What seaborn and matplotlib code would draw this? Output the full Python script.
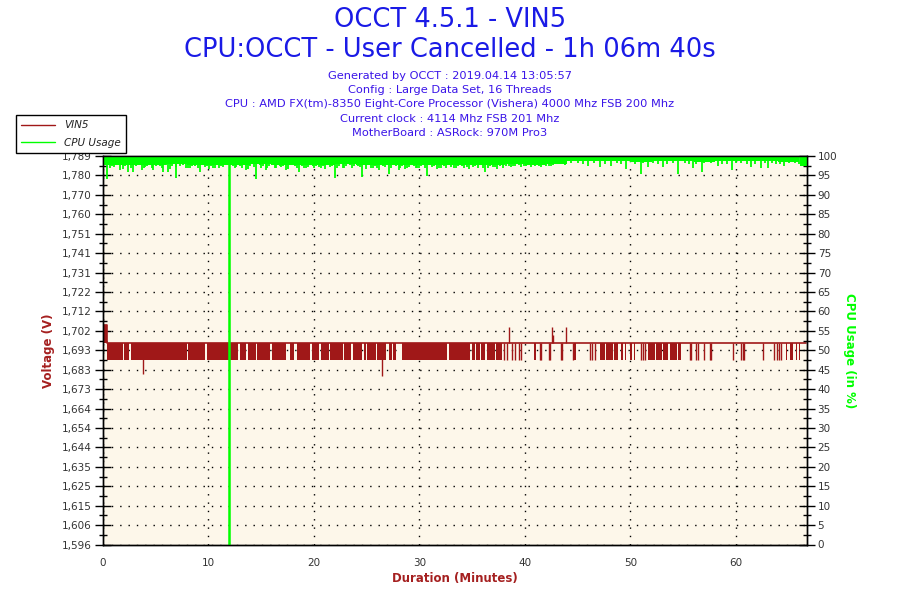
import numpy as np
import matplotlib
matplotlib.use('Agg')
import matplotlib.pyplot as plt
from matplotlib.lines import Line2D
import seaborn as sns

sns.set_style('white')
plt.rcParams['font.family'] = ['DejaVu Sans']

# Данные (минуты / вольты / проценты)
duration = 66.67

volt_labels = ['1,596', '1,606', '1,615', '1,625', '1,635', '1,644', '1,654',
               '1,664', '1,673', '1,683', '1,693', '1,702', '1,712', '1,722',
               '1,731', '1,741', '1,751', '1,760', '1,770', '1,780', '1,789']
volt_min, volt_max = 1.596, 1.7892
cpu_labels = [str(v) for v in range(0, 105, 5)]
x_ticks = [0, 10, 20, 30, 40, 50, 60]

# VIN5: верхний и нижний уровни
v_high = 1.6961
v_low = 1.6876
vin5_line_t = [0.0, 0.45, 0.45, 66.6]
vin5_line_v = [1.705, 1.705, v_high, v_high]
vin5_start_span = [0.0, 0.45]
vin5_start_top = 1.705

# участки, где напряжение постоянно скачет между уровнями
band_start = [0.40, 2.05, 2.71, 8.08, 9.85, 12.99, 13.81, 14.62, 16.01, 17.71,
              18.46, 19.50, 19.85, 20.70, 21.57, 22.85, 23.68, 24.72, 25.09,
              25.98, 27.14, 27.52, 28.40, 32.80, 34.47, 35.00, 35.41, 35.88,
              36.42, 37.30,
              40.82, 44.69, 47.11, 47.65, 48.40, 49.15, 49.50, 49.94, 50.30,
              51.67, 52.40, 53.10, 53.75, 54.50, 64.72, 65.10, 65.66, 65.95]
band_end = [1.92, 2.55, 7.96, 9.72, 12.80, 13.62, 14.50, 15.89, 17.40, 18.18,
            19.43, 19.69, 20.54, 21.48, 22.74, 23.53, 24.62, 24.94, 25.89,
            26.89, 27.45, 27.77, 32.61, 34.38, 34.85, 35.32, 35.79, 36.26,
            37.21, 37.83,
            41.04, 44.85, 47.55, 48.30, 48.84, 49.25, 49.62, 50.10, 50.42,
            52.30, 53.00, 53.60, 54.40, 54.81, 64.85, 65.35, 65.80, 66.07]

# одиночные провалы до нижнего уровня
vin5_dip_t = [38.00, 38.30, 38.77, 39.03, 39.47, 39.66, 41.39, 41.51, 42.24,
              42.40, 43.40, 43.49, 44.53, 46.17, 46.32, 46.64, 50.98, 51.20,
              51.36, 55.60, 55.75, 56.23, 56.39, 56.92, 57.55, 57.64, 59.69,
              60.47, 60.63, 60.79, 62.52, 63.62, 63.84, 64.09, 64.25]
# выбросы вверх и вниз
vin5_up_t = [38.53, 42.61, 42.66, 43.93]
vin5_up_v = [1.7043, 1.7043, 1.7000, 1.7043]
vin5_down_t = [3.85, 26.48]
vin5_down_v = [1.6810, 1.6800]

# CPU Usage
cpu_line_t = [0.0, 12.0, 12.0, 12.1, 12.1, duration]
cpu_line_v = [100, 100, 0, 0, 100, 100]
cpu_floor = [97.6, 97.8, 97.7, 97.9, 97.6, 97.8, 97.7, 97.9, 97.8, 97.6,
             97.7, 97.9, 97.8, 97.7, 97.6, 97.8, 97.7, 97.6, 97.8, 97.9,
             97.7, 98.0, 98.6, 98.7, 98.6, 98.5, 98.7, 98.6, 98.5, 98.7,
             98.8, 98.6, 98.5, 98.3]
cpu_dip_t = [0.47, 1.67, 2.45, 2.92, 3.72, 4.81, 5.75, 6.23, 6.92, 8.11,
             9.22, 10.63, 11.58, 12.68, 13.62, 14.57, 15.51, 16.45, 17.40,
             18.65, 19.28, 20.54, 22.05, 22.74, 23.06, 24.57, 25.41, 26.20,
             27.14, 28.08, 28.87, 29.81, 30.70, 31.86, 33.27, 34.53, 36.26,
             37.21, 38.46, 39.88, 41.29, 42.24, 43.81, 45.07, 46.00, 47.11,
             48.20, 49.57, 50.98, 51.67, 53.08, 54.50, 55.92, 56.79, 58.27,
             59.59, 61.42, 62.36, 62.99, 64.56,
             0.90, 1.30, 2.10, 3.20, 3.50, 4.20, 4.50, 5.10, 5.40, 6.00,
             6.60, 7.30, 7.60, 8.50, 8.80, 9.50, 9.90, 10.30, 10.90, 11.20,
             12.40, 13.00, 13.30, 14.00, 14.90, 15.20, 15.80, 16.10, 16.80,
             17.10, 17.80, 18.20, 18.90, 19.60, 19.90, 20.20, 20.90, 21.30,
             21.70, 22.40, 23.40, 23.80, 24.20, 24.90, 25.80, 26.60, 27.50,
             27.80, 28.40, 29.20, 29.50, 30.20, 31.00, 31.40, 32.30, 32.70,
             33.70, 34.00, 34.90, 35.30, 35.80, 36.70, 37.60, 38.00, 38.90,
             39.40, 40.30, 40.80, 41.70, 42.70,
             43.30, 44.40, 45.50, 46.50, 47.60, 48.70, 49.10, 50.40, 51.20,
             52.10, 52.60, 53.50, 54.00, 55.20, 55.50, 56.20, 57.00, 57.60,
             58.70, 59.10, 60.00, 60.50, 61.00, 61.80, 62.70, 63.40, 63.80,
             64.20, 65.00, 65.60, 66.00,
             0.70, 1.10, 1.90, 2.70, 3.90, 4.00, 4.70, 5.60, 6.40, 7.00,
             7.90, 8.30, 9.00, 9.70, 10.10, 10.50, 11.00, 11.40, 12.55,
             13.20, 13.80, 14.30, 15.00, 15.60, 16.30, 16.95, 17.60, 18.40,
             19.10, 19.45, 20.00, 20.70, 21.10, 21.50, 22.20, 22.90, 23.60,
             24.40, 25.00, 25.60, 26.00, 26.80, 27.30, 28.20, 28.60, 29.00,
             29.70, 30.00, 30.50, 31.20, 31.70, 32.10, 32.50, 33.00, 33.50,
             34.20, 34.70, 35.10, 35.60, 36.00, 36.50, 37.00, 37.40, 37.90,
             38.20, 38.70, 39.10, 39.60, 40.10, 40.60, 41.00, 41.50, 42.00,
             42.50]
cpu_dip_v = [94.0, 96.4, 96.0, 95.9, 96.3, 96.4, 95.9, 96.0, 94.3, 96.8,
             96.0, 96.8, 97.7, 97.1, 96.4, 94.0, 96.4, 96.8, 96.4,
             95.9, 96.8, 97.1, 94.3, 96.8, 97.5, 94.6, 96.8, 96.4,
             95.3, 96.4, 96.8, 96.8, 94.8, 96.8, 96.8, 97.1, 95.9,
             97.1, 97.5, 97.5, 97.5, 97.5, 97.7, 98.1, 97.5, 97.1,
             97.5, 96.6, 95.3, 97.1, 97.1, 95.3, 96.8, 96.0, 97.5,
             96.4, 97.1, 96.8, 96.8, 97.5,
             97.3, 97.7, 97.5, 97.3, 97.6, 97.4, 97.7, 97.3, 97.5, 97.6,
             97.3, 97.5, 97.7, 97.4, 97.3, 97.6, 97.5, 97.3, 97.7, 97.4,
             97.5, 97.3, 97.6, 97.4, 97.7, 97.3, 97.5, 97.6, 97.4,
             97.3, 97.7, 97.5, 97.3, 97.6, 97.4, 97.5, 97.3, 97.7,
             97.5, 97.4, 97.6, 97.3, 97.5, 97.7, 97.4, 97.3, 97.6,
             97.5, 97.3, 97.7, 97.4, 97.5, 97.6, 97.3, 97.5, 97.7,
             97.4, 97.3, 97.6, 97.5, 97.7, 97.3, 97.4, 97.6, 97.5,
             97.7, 97.6, 97.8, 97.7, 97.8,
             98.0, 98.2, 97.9, 98.1, 98.0, 98.2, 97.9, 98.0, 98.1,
             98.2, 97.9, 98.0, 98.1, 98.2, 97.9, 98.0, 98.1, 98.2,
             97.9, 98.0, 98.1, 98.2, 97.9, 98.0, 98.1, 98.2, 97.9,
             98.0, 98.1, 98.2, 97.9,
             96.9, 97.1, 96.7, 97.0, 96.8, 97.2, 96.9, 97.0, 96.7, 97.1,
             96.8, 97.0, 96.9, 97.2, 96.7, 97.0, 96.8, 97.1, 96.9,
             97.0, 96.7, 97.2, 96.8, 97.0, 96.9, 97.1, 96.7, 97.0,
             96.8, 97.2, 96.9, 97.0, 96.7, 97.1, 96.8, 97.0, 96.9,
             97.2, 96.7, 97.0, 96.8, 97.1, 96.9, 97.0, 96.7, 97.2,
             96.8, 97.0, 96.9, 97.1, 96.7, 97.0, 96.8, 97.2, 96.9,
             97.0, 96.7, 97.1, 96.8, 97.0, 96.9, 97.2, 96.7, 97.0,
             97.3, 97.1, 97.4, 97.2, 97.3, 97.1, 97.4, 97.2, 97.3,
             97.4]
cpu_end_span = [66.10, duration]
cpu_end_floor = 97.5

red = '#A01818'
green = '#00FF00'
blue = '#1A1AE6'
blue2 = '#3A14E8'
bg = '#FDF7EA'

fig = plt.figure(figsize=(9, 6), dpi=100)
ax = fig.add_axes([102.5 / 900, 1 - 544.5 / 600, 704 / 900, 388.5 / 600])
ax.set_facecolor(bg)

# VIN5
for s, e in zip(band_start, band_end):
    ax.fill_between([s, e], v_low, v_high, color=red, lw=0)
ax.fill_between(vin5_start_span, v_high, vin5_start_top, color=red, lw=0)
ax.vlines(vin5_dip_t, v_low, v_high, color=red, lw=1)
ax.vlines(vin5_up_t, v_high, vin5_up_v, color=red, lw=1)
ax.vlines(vin5_down_t, vin5_down_v, v_high, color=red, lw=1)
sns.lineplot(x=vin5_line_t, y=vin5_line_v, ax=ax, color=red, lw=1.2,
             estimator=None, sort=False)

ax.set_xlim(0, duration)
ax.set_ylim(volt_min, volt_max)
yt = np.linspace(volt_min, volt_max, 21)
ax.set_yticks(yt)
ax.set_yticklabels(volt_labels)
ax.set_yticks((yt[:-1] + yt[1:]) / 2, minor=True)
ax.set_xticks(x_ticks)
ax.set_xticks(np.arange(0, duration, 2), minor=True)
ax.grid(True, which='major', color='black', linestyle=(0, (1, 5)), lw=1)
ax.set_axisbelow(True)

# CPU Usage
ax2 = ax.twinx()
ax2.patch.set_visible(False)
floor_t = np.arange(0, 68, 2)
ax2.fill_between(floor_t, cpu_floor, 100, step='post', color=green, lw=0)
ax2.vlines(cpu_dip_t, cpu_dip_v, 100, color=green, lw=1.3)
ax2.fill_between(cpu_end_span, cpu_end_floor, 100, color=green, lw=0)
sns.lineplot(x=cpu_line_t, y=cpu_line_v, ax=ax2, color=green, lw=1.1,
             estimator=None, sort=False)
ax2.set_xlim(0, duration)
ax2.set_ylim(0, 100)
ax2.set_yticks(range(0, 105, 5))
ax2.set_yticklabels(cpu_labels)
ax2.set_yticks(np.arange(2.5, 100, 5), minor=True)

for a in (ax, ax2):
    for sp in a.spines.values():
        sp.set_color('black')
        sp.set_linewidth(1)
    a.tick_params(which='major', direction='inout', length=12, width=1,
                  color='black', labelcolor='#333333', labelsize=7.5, pad=2)
    a.tick_params(which='minor', direction='inout', length=6, width=1,
                  color='black')
ax.tick_params(axis='x', which='major', pad=4)

ax.set_ylabel('Voltage (V)', color='#A52020', fontsize=8.5, fontweight='bold')
ax.yaxis.set_label_coords(-0.067, 0.5)
ax2.set_ylabel('CPU Usage (in %)', color=green, fontsize=8.5,
               fontweight='bold', rotation=-90, va='bottom')
ax2.yaxis.set_label_coords(1.052, 0.5)
ax.set_xlabel('Duration (Minutes)', color='#A52020', fontsize=8.5,
              fontweight='bold')
ax.xaxis.set_label_coords(0.5, -0.072)

# Заголовки
fig.text(0.5, 1 - 20 / 600, 'OCCT 4.5.1 - VIN5', ha='center', va='center',
         fontsize=18.5, color=blue)
fig.text(0.5, 1 - 50 / 600, 'CPU:OCCT - User Cancelled - 1h 06m 40s',
         ha='center', va='center', fontsize=18.5, color=blue)
info = ['Generated by OCCT : 2019.04.14 13:05:57',
        'Config : Large Data Set, 16 Threads',
        'CPU : AMD FX(tm)-8350 Eight-Core Processor (Vishera) 4000 Mhz FSB 200 Mhz',
        'Current clock : 4114 Mhz FSB 201 Mhz',
        'MotherBoard : ASRock: 970M Pro3']
for i, line in enumerate(info):
    fig.text(0.5, 1 - (76 + 14.2 * i) / 600, line, ha='center', va='center',
             fontsize=8.2, color=blue2)

handles = [Line2D([], [], color=red, lw=1), Line2D([], [], color=green, lw=1)]
leg = fig.legend(handles, ['VIN5', 'CPU Usage'], loc='upper left',
                 bbox_to_anchor=(16 / 900, 1 - 115 / 600), frameon=True,
                 fancybox=False, edgecolor='black', framealpha=1,
                 prop={'style': 'italic', 'size': 7.5}, handlelength=3.2,
                 borderpad=0.5, labelspacing=0.7, handletextpad=0.9,
                 borderaxespad=0)
leg.get_frame().set_linewidth(1)
for t in leg.get_texts():
    t.set_color('#222222')

fig.savefig('out.png', dpi=100)
